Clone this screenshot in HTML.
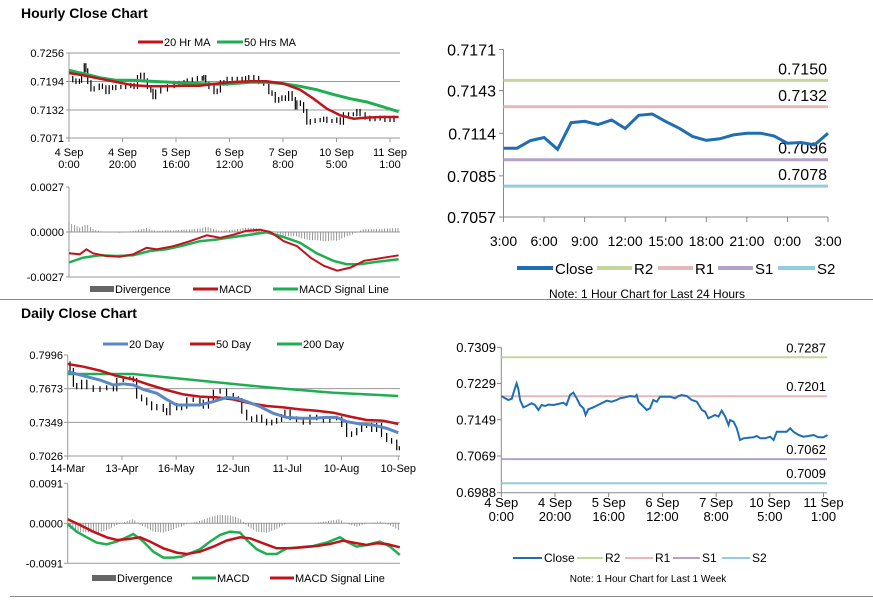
<!DOCTYPE html>
<html><head><meta charset="utf-8"><style>
html,body{margin:0;padding:0;background:#fff;}
svg{display:block;font-family:"Liberation Sans",Arial,sans-serif;}
</style></head><body>
<svg id="root" width="873" height="601" viewBox="0 0 873 601" xmlns="http://www.w3.org/2000/svg">
<rect x="0" y="0" width="873" height="601" fill="#fff"/>
<text x="21" y="18" font-size="14" font-weight="bold" fill="#000">Hourly Close Chart</text>
<text x="21" y="318" font-size="14" font-weight="bold" fill="#000">Daily Close Chart</text>
<line x1="0" y1="299.5" x2="873" y2="299.5" stroke="#888" stroke-width="1"/>
<line x1="10" y1="596.5" x2="873" y2="596.5" stroke="#888" stroke-width="1"/>
</svg>
<script>
// ---------- DATA ----------
// Weekly hourly close (hours since 4 Sep 0:00)
const wkHours=[0,1.4,2.6,3.9,4.7,5.7,6.3,7,8.2,9.4,11.3,12.5,13.8,15,16.3,17.5,19.4,21.2,23.1,24.3,25.6,26.8,28.1,29.3,30.6,31.4,32.4,34.3,36.8,39.3,41.1,43,44.2,46.1,48,49.8,50.4,51.1,52.3,54.2,55.4,56.6,57.9,59.1,61,62.9,64.7,66,67.2,69.1,70.9,72.8,74.7,75.9,77.1,78.4,79.6,80.9,82.1,83.4,84.6,85.2,86.5,87.7,88.9,90.2,92,93.9,95.2,96.4,98.3,100.1,101.4,102.6,104.5,106.3,107.6,108.8,110.7,112.5,114.4,116.3,118.1,120,121.5];
const wkClose=[0.72015,0.71964,0.71927,0.71956,0.72111,0.72295,0.72184,0.71927,0.71765,0.71794,0.71853,0.71816,0.71706,0.71816,0.71794,0.71824,0.71816,0.71838,0.71868,0.71816,0.72037,0.72089,0.71964,0.71816,0.71743,0.71596,0.71721,0.71765,0.71838,0.71912,0.7189,0.71927,0.71964,0.71986,0.72015,0.72,0.72037,0.7189,0.71816,0.71706,0.71743,0.71927,0.7189,0.72,0.72,0.72,0.71964,0.72015,0.72037,0.72015,0.71927,0.7189,0.71706,0.71669,0.71522,0.71559,0.71596,0.71559,0.71691,0.71559,0.71375,0.71485,0.71448,0.71301,0.71043,0.7108,0.71095,0.71102,0.71132,0.7108,0.7108,0.71117,0.71043,0.71227,0.71227,0.71227,0.71301,0.71227,0.71154,0.71117,0.71132,0.71154,0.71102,0.71102,0.71154];
const wkTickHours=[0,20,40,60,80,100,120];
const wkTickLine1=["4 Sep","4 Sep","5 Sep","6 Sep","7 Sep","10 Sep","11 Sep"];
const wkTickLine2=["0:00","20:00","16:00","12:00","8:00","5:00","1:00"];
const wkLevelNames=["R2","R1","S1","S2"];
const wkLevels=[0.7287,0.7201,0.7062,0.7009];
const wkYTicks=[0.7309,0.7229,0.7149,0.7069,0.6988];
// Hourly MAs
const ma20Hours=[0,5.2,11.5,17.7,24,30.2,36.4,42.7,48.9,55.2,61.4,67.7,73.9,80.1,86.4,91.4,96.4,101.4,106.4,111.4,116.4,123.2];
const ma20Vals=[0.72125,0.72074,0.72001,0.71929,0.71856,0.71835,0.71835,0.71849,0.71849,0.71893,0.71929,0.71943,0.71943,0.71893,0.71762,0.71566,0.71348,0.71203,0.71131,0.71153,0.71167,0.71167];
const ma50Hours=[0,6.5,11.5,17.7,24,30.2,36.4,42.7,48.9,55.2,61.4,67.7,73.9,80.1,86.4,92.6,98.8,105.1,111.4,117.6,123.2];
const ma50Vals=[0.72183,0.72096,0.72023,0.71965,0.71965,0.71943,0.71929,0.71907,0.71893,0.71878,0.71893,0.71922,0.71922,0.71893,0.71835,0.71762,0.7166,0.71566,0.71494,0.71385,0.71283];
const hrYTicks=[0.7256,0.7194,0.7132,0.7071];
// Hourly MACD
const hMacdHours=[0,4,6.5,9,14,19,24,29,32.7,39,45.2,51.5,56.5,61.5,66.5,71.5,75.3,80.3,85.3,90.3,95.3,100.3,105.3,110.3,115.3,123.2];
const hMacdVals=[-0.00128,-0.00134,-0.00104,-0.00128,-0.00144,-0.00148,-0.00134,-0.00095,-0.00104,-0.00085,-0.00055,-0.0002,-0.00035,-0.00016,0.00008,0.00014,0,-0.00055,-0.00085,-0.00154,-0.00203,-0.00232,-0.00213,-0.00173,-0.0016,-0.0014];
const hSigHours=[0,5.2,11.5,17.7,24,30.2,36.4,42.7,48.9,55.2,61.4,67.7,73.9,80.1,86.4,92.6,98.8,103.8,108.8,115.1,123.2];
const hSigVals=[-0.00183,-0.00154,-0.0014,-0.00144,-0.0014,-0.00114,-0.00104,-0.00081,-0.00055,-0.00045,-0.0003,-0.00016,-0.00002,-0.0003,-0.00065,-0.00128,-0.00173,-0.00193,-0.00193,-0.00179,-0.00164];
const hMacdTicks=[0.0027,0,-0.0027];
// 24h chart
const dayTickLabels=["3:00","6:00","9:00","12:00","15:00","18:00","21:00","0:00","3:00"];
const dayClose=[0.71038,0.71038,0.7109,0.71111,0.71031,0.71212,0.71221,0.71199,0.7123,0.71172,0.71262,0.71271,0.71219,0.71174,0.71117,0.71092,0.71102,0.71129,0.7114,0.7114,0.71122,0.71072,0.71077,0.71061,0.7114];
const dayLevels=[0.7150,0.7132,0.7096,0.7078];
const dayYTicks=[0.7171,0.7143,0.7114,0.7085,0.7057];
// Daily chart (trading-day index)
const dIdx=[0,0.9,2.2,3.5,5.4,7.4,9.9,12.5,15.1,17.7,19,21.5,24.1,25.4,26.7,28.6,30.6,32.5,34.5,37,38.3,39.6,42.2,44.1,46.1,48.6,51.2,52.5,54.5,56.4,59,61.5,64.1,66.1,67.4,69.3,71.2,73.2,75.1,77,79,80.9,82.8,84.1,86.1,88.6,91.2,93.8,96.4,99,101.5,104.1,106.1,108,109.9,111.9,113.8,115.7,117.7,119.6,121.5,123.5,125.4,127.4,128.4];
const dClose=[0.7916,0.7852,0.7708,0.7686,0.774,0.7686,0.766,0.7676,0.7686,0.7666,0.7756,0.7772,0.7772,0.7756,0.7596,0.757,0.7532,0.7484,0.7506,0.7468,0.7436,0.7516,0.7484,0.75,0.757,0.7564,0.7548,0.75,0.7564,0.7644,0.7654,0.7612,0.758,0.7564,0.7452,0.7388,0.7372,0.7404,0.7365,0.734,0.7356,0.7372,0.741,0.7452,0.7388,0.7372,0.7346,0.7404,0.7388,0.7365,0.7388,0.7388,0.7324,0.7228,0.7244,0.7276,0.7314,0.7324,0.7276,0.7324,0.7228,0.718,0.7164,0.71,0.71];
const d20Idx=[0,7.4,12.5,17.7,21.5,25.4,29.3,34.5,38.3,42.2,46.1,51.2,56.4,61.5,65.4,69.3,74.5,79.6,84.8,89.9,95.1,100.2,104.1,108,113.2,118.3,123.5,128];
const d20Vals=[0.7836,0.7788,0.7756,0.7708,0.7718,0.7708,0.7666,0.7628,0.757,0.7516,0.7516,0.7516,0.7548,0.7589,0.758,0.7548,0.75,0.7436,0.7397,0.7388,0.7388,0.7397,0.7397,0.7356,0.7333,0.7324,0.7292,0.725];
const d50Idx=[0,6.1,12.5,19,25.4,31.9,38.3,44.8,51.2,57.7,64.1,70.6,77,83.5,89.9,96.4,102.8,109.3,115.7,122.2,128];
const d50Vals=[0.791,0.7884,0.7846,0.7794,0.7762,0.7708,0.766,0.7618,0.7596,0.7589,0.757,0.7532,0.7506,0.7493,0.7474,0.7461,0.7442,0.7404,0.7372,0.7365,0.7333];
const d200Idx=[0,25.4,51.2,77,102.8,128];
const d200Vals=[0.7814,0.7814,0.775,0.7686,0.7634,0.7602];
const dTickIdx=[0,21,42,64,85,106,128];
const dTickLabels=["14-Mar","13-Apr","16-May","12-Jun","11-Jul","10-Aug","10-Sep"];
const dYTicks=[0.7996,0.7673,0.7349,0.7026];
const dMacdIdx=[0,3.5,7.4,11.2,15.1,19,22.8,25.4,29.3,33.2,37,40.9,44.1,47.4,51.2,55.1,59,62.8,66.7,69.3,73.2,77,80.9,84.8,89.9,95.1,100.2,105.4,108,111.9,115.7,120.9,124.8,128.6];
const dMacdVals=[-0.00015,-0.0019,-0.00318,-0.0044,-0.00478,-0.00417,-0.00318,-0.00243,-0.00417,-0.00645,-0.00781,-0.00781,-0.00758,-0.00682,-0.00591,-0.00417,-0.00265,-0.0019,-0.00212,-0.00379,-0.00591,-0.00698,-0.00698,-0.00569,-0.00546,-0.00516,-0.0044,-0.00318,-0.00417,-0.00531,-0.00493,-0.00417,-0.00531,-0.0072];
const dSigIdx=[0,4.8,9.9,15.1,19,22.8,28,31.9,37,42.2,46.1,51.2,56.4,61.5,66.7,70.6,75.7,80.9,86.1,91.2,96.4,101.5,106.7,110.6,115.7,119.6,123.5,128.6];
const dSigVals=[0.00091,-0.00038,-0.0019,-0.00318,-0.00379,-0.00364,-0.00318,-0.00417,-0.00569,-0.00667,-0.00698,-0.00645,-0.00531,-0.00394,-0.00318,-0.00341,-0.00455,-0.00569,-0.00569,-0.00546,-0.00516,-0.0047,-0.00394,-0.0044,-0.00493,-0.00455,-0.0047,-0.00546];
const dMacdTicks=[0.0091,0,-0.0091];

// ---------- HELPERS ----------
const NS="http://www.w3.org/2000/svg";
const root=document.getElementById('root');
function mk(tag,attrs,parent){const e=document.createElementNS(NS,tag);for(const k in attrs)e.setAttribute(k,attrs[k]);(parent||root).appendChild(e);return e;}
function lin(d0,d1,r0,r1){return v=>r0+(v-d0)/(d1-d0)*(r1-r0);}
function interp(xs,ys,x){if(x<=xs[0])return ys[0];for(let i=1;i<xs.length;i++){if(x<=xs[i]){const t=(x-xs[i-1])/(xs[i]-xs[i-1]);return ys[i-1]+t*(ys[i]-ys[i-1]);}}return ys[ys.length-1];}
function path(xs,ys,xf,yf){return xs.map((x,i)=>(i?'L':'M')+xf(x).toFixed(1)+' '+yf(ys[i]).toFixed(1)).join(' ');}
function txt(x,y,s,size,anchor,parent){const t=mk('text',{x:x,y:y,'font-size':size,'text-anchor':anchor||'start',fill:'#000'},parent);t.textContent=s;return t;}

// ---------- HOURLY PRICE (top-left) ----------
{
const g=mk('g',{});


const xf=lin(0,20,69,122.5), yf=lin(0.7256,0.7071,53,138);
hrYTicks.forEach(v=>{const l=mk('line',{x1:66,x2:400,y1:yf(v),y2:yf(v),stroke:'#999','stroke-width':1},g);


const t=txt(64,yf(v)+4,v.toFixed(4),11,'end',g);

});
mk('line',{x1:69,x2:69,y1:53,y2:138,stroke:'#999'},g);
wkTickHours.forEach((h,i)=>{mk('line',{x1:xf(h),x2:xf(h),y1:138,y2:142,stroke:'#999'},g);
const a=txt(xf(h),156,wkTickLine1[i],11,'middle',g);


const b=txt(xf(h),168,wkTickLine2[i],11,'middle',g);

});
for(let i=1;i<wkHours.length;i++){const x=xf(wkHours[i]);const a=yf(wkClose[i-1]),b=yf(wkClose[i]);
const bar=mk('line',{x1:x,x2:x,y1:Math.min(a,b)-2,y2:Math.max(a,b)+2,stroke:'#000','stroke-width':1.2},g);

}
const p1=mk('path',{d:path(ma50Hours,ma50Vals,xf,yf),fill:'none',stroke:'#1fae52','stroke-width':3},g);


const p2=mk('path',{d:path(ma20Hours,ma20Vals,xf,yf),fill:'none',stroke:'#c0141c','stroke-width':2.5},g);


mk('line',{x1:138,x2:163,y1:42,y2:42,stroke:'#c0141c','stroke-width':3},g);
const l1=txt(164,46,'20 Hr MA',11,'start',g);


mk('line',{x1:217,x2:243,y1:42,y2:42,stroke:'#1fae52','stroke-width':3},g);
const l2=txt(244,46,'50 Hrs MA',11,'start',g);


}
// ---------- HOURLY MACD ----------
{
const g=mk('g',{});


const xf=lin(0,20,69,122.5), yf=lin(0.0027,-0.0027,187,277);
hMacdTicks.forEach(v=>{const t=txt(64,yf(v)+4,v.toFixed(4),11,'end',g);


mk('line',{x1:66,x2:69,y1:yf(v),y2:yf(v),stroke:'#999'},g);});
mk('line',{x1:69,x2:69,y1:187,y2:277,stroke:'#999'},g);
mk('line',{x1:69,x2:400,y1:277,y2:277,stroke:'#999'},g);
mk('line',{x1:69,x2:400,y1:yf(0),y2:yf(0),stroke:'#999'},g);
for(let h=0;h<=123;h+=1){const d=interp(hMacdHours,hMacdVals,h)-interp(hSigHours,hSigVals,h);
const b=mk('line',{x1:xf(h),x2:xf(h),y1:yf(0),y2:yf(d),stroke:'#808080','stroke-width':0.8},g);

}
const s=mk('path',{d:path(hSigHours,hSigVals,xf,yf),fill:'none',stroke:'#1fae52','stroke-width':2.5},g);


const m=mk('path',{d:path(hMacdHours,hMacdVals,xf,yf),fill:'none',stroke:'#c0141c','stroke-width':2},g);


mk('rect',{x:90,y:286,width:24,height:6,fill:'#666'},g);
const a=txt(115,293,'Divergence',11,'start',g);


mk('line',{x1:193,x2:218,y1:289,y2:289,stroke:'#c0141c','stroke-width':3},g);
const b2=txt(219,293,'MACD',11,'start',g);


mk('line',{x1:273,x2:298,y1:289,y2:289,stroke:'#1fae52','stroke-width':3},g);
const c=txt(299,293,'MACD Signal Line',11,'start',g);


}
// ---------- 24H CHART (top-right) ----------
{
const g=mk('g',{});


const xf=lin(0,24,503.5,828), yf=lin(0.7171,0.7057,49.5,217);
const cols=['#c3d69b','#e6b9b8','#b3a2c7','#93cddd'];
dayYTicks.forEach(v=>{const t=txt(496,yf(v)+6,v.toFixed(4),16,'end',g);


mk('line',{x1:499,x2:503.5,y1:yf(v),y2:yf(v),stroke:'#888'},g);});
mk('line',{x1:503.5,x2:503.5,y1:49.5,y2:217,stroke:'#888'},g);
mk('line',{x1:503.5,x2:828,y1:217,y2:217,stroke:'#888'},g);
dayTickLabels.forEach((s,i)=>{const x=xf(i*3);mk('line',{x1:x,x2:x,y1:217,y2:222,stroke:'#888'},g);
const t=txt(x,246,s,14,'middle',g);

});
dayLevels.forEach((v,i)=>{const l=mk('line',{x1:503.5,x2:828,y1:yf(v),y2:yf(v),stroke:cols[i],'stroke-width':3},g);


const t=txt(827,yf(v)-6,v.toFixed(4),16,'end',g);

});
const idx=dayClose.map((_,i)=>i);
const p=mk('path',{d:path(idx,dayClose,xf,yf),fill:'none',stroke:'#1f6eb4','stroke-width':3},g);


mk('line',{x1:517,x2:553,y1:268,y2:268,stroke:'#1f6eb4','stroke-width':4},g);
const a=txt(555,274,'Close',15,'start',g);


const lx=[[597,632,634],[658,693,695],[718,753,755],[778,815,817]];
wkLevelNames.forEach((n,i)=>{mk('line',{x1:lx[i][0],x2:lx[i][1],y1:268,y2:268,stroke:cols[i],'stroke-width':4},g);
const t=txt(lx[i][2],274,n,15,'start',g);

});
const n=txt(647,298,'Note: 1 Hour Chart for Last 24 Hours',12,'middle',g);


}
// ---------- DAILY PRICE (bottom-left) ----------
{
const g=mk('g',{});


const xf=lin(0,128,67.7,398.3), yf=lin(0.7996,0.7026,355,456);
dYTicks.forEach((v,i)=>{const t=txt(63,yf(v)+4,v.toFixed(4),11,'end',g);


const l=mk('line',{x1:64,x2:(i===0?67.7:400),y1:yf(v),y2:yf(v),stroke:'#999'},g);

});
mk('line',{x1:67.7,x2:67.7,y1:355,y2:456,stroke:'#999'},g);
dTickIdx.forEach((d,i)=>{mk('line',{x1:xf(d),x2:xf(d),y1:456,y2:460,stroke:'#999'},g);
const t=txt(xf(d),472,dTickLabels[i],11,'middle',g);

});
for(let i=1;i<dIdx.length;i++){const x=xf(dIdx[i]);const a=yf(dClose[i-1]),b=yf(dClose[i]);
const bar=mk('line',{x1:x,x2:x,y1:Math.min(a,b)-2,y2:Math.max(a,b)+2,stroke:'#000','stroke-width':1.2},g);

}
const a=mk('path',{d:path(d200Idx,d200Vals,xf,yf),fill:'none',stroke:'#1fae52','stroke-width':2.5},g);


const b=mk('path',{d:path(d50Idx,d50Vals,xf,yf),fill:'none',stroke:'#c0141c','stroke-width':2.5},g);


const c=mk('path',{d:path(d20Idx,d20Vals,xf,yf),fill:'none',stroke:'#5b87c5','stroke-width':3},g);


const L=[[103,128,'20 Day','#5b87c5'],[190,215,'50 Day','#c0141c'],[277,302,'200 Day','#1fae52']];
L.forEach(e=>{mk('line',{x1:e[0],x2:e[1],y1:344,y2:344,stroke:e[3],'stroke-width':3},g);
const t=txt(e[1]+1,348,e[2],11,'start',g);

});
}
// ---------- DAILY MACD ----------
{
const g=mk('g',{});


const xf=lin(0,128,67.7,398.3), yf=lin(0.0091,-0.0091,483.3,563.3);
dMacdTicks.forEach(v=>{const t=txt(63,yf(v)+4,v.toFixed(4),11,'end',g);


mk('line',{x1:64,x2:67.7,y1:yf(v),y2:yf(v),stroke:'#999'},g);});
mk('line',{x1:67.7,x2:67.7,y1:483.3,y2:563.3,stroke:'#999'},g);
mk('line',{x1:67.7,x2:400,y1:563.3,y2:563.3,stroke:'#999'},g);
mk('line',{x1:67.7,x2:400,y1:yf(0),y2:yf(0),stroke:'#999'},g);
for(let d=0;d<=128.6;d+=1){const v=interp(dMacdIdx,dMacdVals,d)-interp(dSigIdx,dSigVals,d);
const b=mk('line',{x1:xf(d),x2:xf(d),y1:yf(0),y2:yf(v),stroke:'#808080','stroke-width':0.8},g);

}
const m=mk('path',{d:path(dMacdIdx,dMacdVals,xf,yf),fill:'none',stroke:'#1fae52','stroke-width':2.5},g);


const s=mk('path',{d:path(dSigIdx,dSigVals,xf,yf),fill:'none',stroke:'#c0141c','stroke-width':2.5},g);


mk('rect',{x:92,y:575,width:24,height:6,fill:'#666'},g);
const a=txt(117,582,'Divergence',11,'start',g);


mk('line',{x1:192,x2:216,y1:578,y2:578,stroke:'#1fae52','stroke-width':3},g);
const b2=txt(217,582,'MACD',11,'start',g);


mk('line',{x1:270,x2:294,y1:578,y2:578,stroke:'#c0141c','stroke-width':3},g);
const c=txt(295,582,'MACD Signal Line',11,'start',g);


}
// ---------- WEEKLY CHART (bottom-right) ----------
{
const g=mk('g',{});


const xf=lin(0,20,501.3,555), yf=lin(0.7309,0.6988,347.3,492.7);
const cols=['#c3d69b','#e6b9b8','#b3a2c7','#93cddd'];
wkYTicks.forEach(v=>{const t=txt(496,yf(v)+4.5,v.toFixed(4),13,'end',g);


mk('line',{x1:497,x2:501.3,y1:yf(v),y2:yf(v),stroke:'#888'},g);});
mk('line',{x1:501.3,x2:501.3,y1:347.3,y2:492.7,stroke:'#888'},g);
mk('line',{x1:501.3,x2:827,y1:492.7,y2:492.7,stroke:'#888'},g);
wkTickHours.forEach((h,i)=>{const x=xf(h);mk('line',{x1:x,x2:x,y1:492.7,y2:497,stroke:'#888'},g);
const a=txt(x,507,wkTickLine1[i],13,'middle',g);


const b=txt(x,521,wkTickLine2[i],13,'middle',g);

});
wkLevels.forEach((v,i)=>{const l=mk('line',{x1:501.3,x2:827,y1:yf(v),y2:yf(v),stroke:cols[i],'stroke-width':2},g);


const t=txt(826,yf(v)-5,v.toFixed(4),13,'end',g);

});
const p=mk('path',{d:path(wkHours,wkClose,xf,yf),fill:'none',stroke:'#1f6eb4','stroke-width':2},g);


mk('line',{x1:513,x2:542,y1:558,y2:558,stroke:'#1f6eb4','stroke-width':2},g);
const a=txt(544,562,'Close',12,'start',g);


const lx=[[577,603,605],[625,653,655],[673,700,702],[722,750,752]];
wkLevelNames.forEach((n,i)=>{mk('line',{x1:lx[i][0],x2:lx[i][1],y1:558,y2:558,stroke:cols[i],'stroke-width':2},g);
const t=txt(lx[i][2],562,n,12,'start',g);

});
const n=txt(648,582,'Note: 1 Hour Chart for Last 1 Week',10,'middle',g);


}
</script>
</body></html>
